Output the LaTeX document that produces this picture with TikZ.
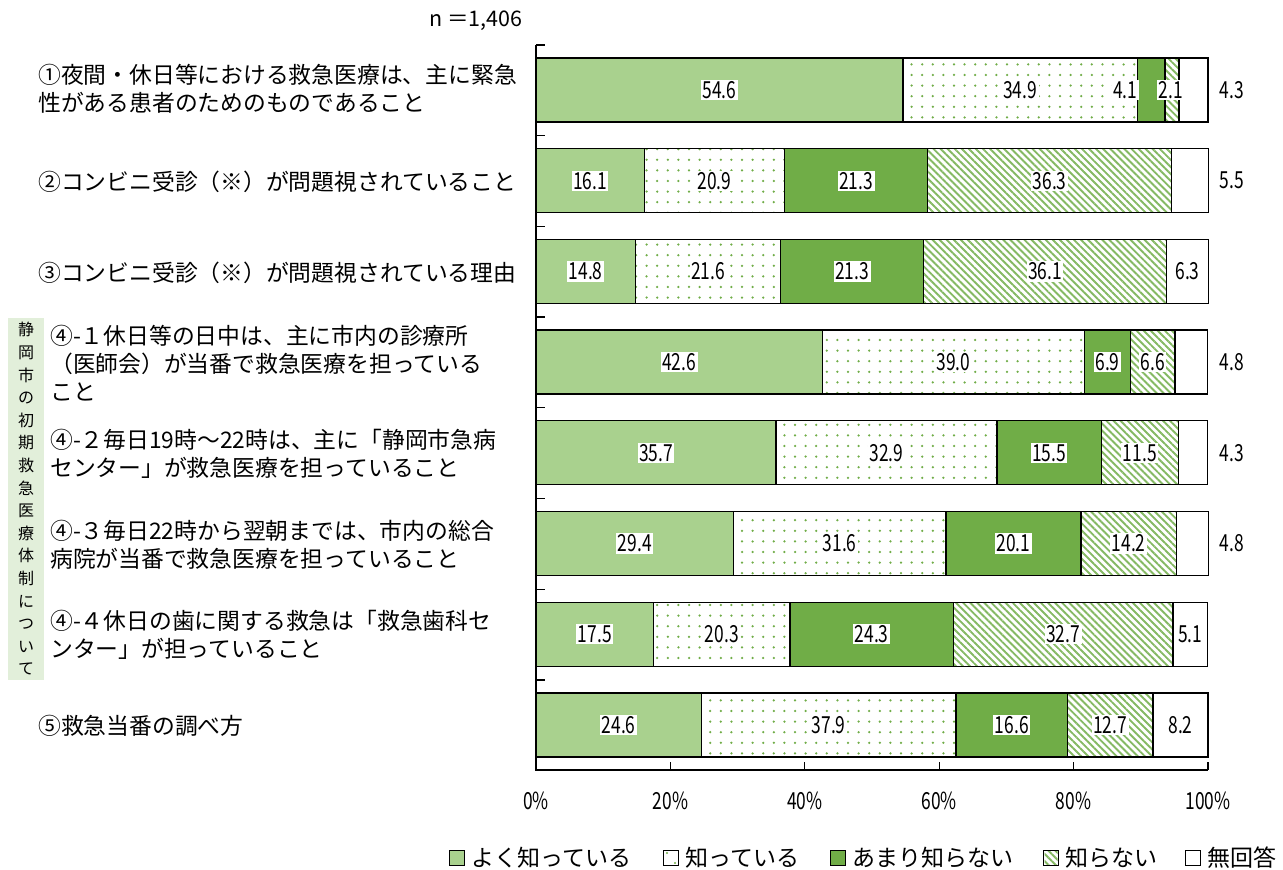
\documentclass[tikz,border=0pt]{standalone}
\usepackage{fontspec}
\setmainfont{Noto Sans CJK JP}
\newfontfamily\numfont[FakeStretch=0.74]{Noto Sans CJK JP}
\usetikzlibrary{patterns.meta}
\definecolor{lgreen}{HTML}{A9D18E}
\definecolor{dgreen}{HTML}{70AD47}
\definecolor{pgreen}{HTML}{70AD47}
\definecolor{boxgreen}{HTML}{E2EFDA}
\tikzset{
  seg/.style={draw=black, line width=1.3pt},
  dotsA/.style={pattern={Dots[distance=10.6pt, radius=1.25pt]}, pattern color=pgreen},
  hatch/.style={pattern={Lines[angle=-45, distance=5pt, line width=1.9pt]}, pattern color=pgreen!85},
  val/.style={fill=white, inner sep=1.5pt, font=\numfont\fontsize{23.5}{23.5}\selectfont},
  valout/.style={inner sep=1pt, font=\numfont\fontsize{23.5}{23.5}\selectfont},
  axlab/.style={inner sep=0pt, font=\numfont\fontsize{23.5}{23.5}\selectfont},
  cat/.style={anchor=west, align=left, inner sep=0pt, font=\fontsize{22.8}{28}\selectfont},
  legbox/.style={draw=black, line width=1.2pt, minimum width=15pt, minimum height=15pt, inner sep=0pt},
  legtxt/.style={anchor=west, inner sep=0pt, font=\fontsize{23}{23}\selectfont},
}
\newcommand\drawbar[9]{%
  \pgfmathsetmacro\yc{90+(#1-1)*90.7}%
  \pgfmathsetmacro\yt{\yc-32}\pgfmathsetmacro\yb{\yc+32}%
  \pgfmathsetmacro\xa{536}%
  \pgfmathsetmacro\xb{\xa+6.72*#2}%
  \pgfmathsetmacro\xc{\xb+6.72*#3}%
  \pgfmathsetmacro\xd{\xc+6.72*#4}%
  \pgfmathsetmacro\xe{\xd+6.72*#5}%
  \pgfmathsetmacro\xf{min(\xe+6.72*#6,1208.5)}%
  \path[seg, fill=lgreen] (\xa,\yt) rectangle (\xb,\yb);
  \path[fill=white] (\xb,\yt) rectangle (\xc,\yb);
  \path[dotsA] (\xb,\yt) rectangle (\xc,\yb);
  \path[seg] (\xb,\yt) rectangle (\xc,\yb);
  \path[seg, fill=dgreen] (\xc,\yt) rectangle (\xd,\yb);
  \path[fill=white] (\xd,\yt) rectangle (\xe,\yb);
  \path[hatch] (\xd,\yt) rectangle (\xe,\yb);
  \path[seg] (\xd,\yt) rectangle (\xe,\yb);
  \path[seg, fill=white] (\xe,\yt) rectangle (\xf,\yb);
  \node[val] (v#1a) at ({(\xa+\xb)/2},\yc) {#2};
  \node[val] (v#1b) at ({(\xb+\xc)/2},\yc) {#3};
  \node[val] (v#1c) at ({(\xc+\xd)/2+#7},\yc) {#4};
  \node[val] (v#1d) at ({(\xd+\xe)/2+#8},\yc) {#5};
  \ifnum#9=1
    \node[valout] (v#1e) at (1232,\yc) {#6};
  \else
    \node[val] (v#1e) at ({(\xe+\xf)/2},\yc) {#6};
  \fi
}
\begin{document}
\begin{tikzpicture}[x=1pt, y=-1pt]
\useasboundingbox (0,0) rectangle (1283,870);
\fill[white] (0,0) rectangle (1283,870);

\node[inner sep=0pt, font=\fontsize{21.5}{21.5}\selectfont] (nlab) at (476,21) {n ＝1,406};

% bars
\drawbar{1}{54.6}{34.9}{4.1}{2.1}{4.3}{-26}{-1}{1}
\drawbar{2}{16.1}{20.9}{21.3}{36.3}{5.5}{0}{0}{1}
\drawbar{3}{14.8}{21.6}{21.3}{36.1}{6.3}{0}{0}{0}
\drawbar{4}{42.6}{39.0}{6.9}{6.6}{4.8}{0}{0}{1}
\drawbar{5}{35.7}{32.9}{15.5}{11.5}{4.3}{0}{0}{1}
\drawbar{6}{29.4}{31.6}{20.1}{14.2}{4.8}{0}{0}{1}
\drawbar{7}{17.5}{20.3}{24.3}{32.7}{5.1}{0}{0}{0}
\drawbar{8}{24.6}{37.9}{16.6}{12.7}{8.2}{0}{0}{0}

% axes
\coordinate (atop) at (536,45);
\coordinate (aorig) at (536,770);
\coordinate (aend) at (1208,770);
\draw[line width=1.3pt] (atop) -- (aorig) -- (aend);
\foreach \k in {0,...,7} {
  \pgfmathsetmacro\ty{45+\k*90.7}
  \coordinate (sep\k) at (536,\ty);
  \draw[line width=1.3pt] (sep\k) -- ++(9,0);
}
\foreach \p [count=\j from 0] in {0,20,40,60,80,100} {
  \coordinate (tk\j) at ({536+6.72*\p},770);
  \draw[line width=1.3pt] (tk\j) -- ++(0,-8);
  \node[axlab] (ax\j) at ({536+6.72*\p},801) {\p\%};
}

% category labels
\node[cat] (c1) at (38,89) {①夜間・休日等における救急医療は、主に緊急\\性がある患者のためのものであること};
\node[cat] (c2) at (38,181.7) {②コンビニ受診（※）が問題視されていること};
\node[cat] (c3) at (38,272.4) {③コンビニ受診（※）が問題視されている理由};
\node[cat] (c4) at (50,363.1) {④-１休日等の日中は、主に市内の診療所\\（医師会）が当番で救急医療を担っている\\こと};
\node[cat] (c5) at (50,453.8) {④-２毎日19時～22時は、主に「静岡市急病\\センター」が救急医療を担っていること};
\node[cat] (c6) at (50,544.5) {④-３毎日22時から翌朝までは、市内の総合\\病院が当番で救急医療を担っていること};
\node[cat] (c7) at (50,635.2) {④-４休日の歯に関する救急は「救急歯科セ\\ンター」が担っていること};
\node[cat] (c8) at (38,725.9) {⑤救急当番の調べ方};

% group box
\node[fill=boxgreen, minimum width=36pt, minimum height=362pt, inner sep=0pt, align=center,
      font=\fontsize{16}{22.6}\selectfont] (grp) at (26,499)
  {静\\岡\\市\\の\\初\\期\\救\\急\\医\\療\\体\\制\\に\\つ\\い\\て};

% legend
\node[legbox, fill=lgreen] (lb1) at (457,858) {};
\node[legtxt] (lt1) at (471,858) {よく知っている};
\node[legbox, fill=white] (lb2) at (671,858) {};
\fill[pgreen] (667,853) circle (1.2pt) (675,863) circle (1.2pt);
\node[legtxt] (lt2) at (685,858) {知っている};
\node[legbox, fill=dgreen] (lb3) at (838,858) {};
\node[legtxt] (lt3) at (852,858) {あまり知らない};
\node[legbox, fill=white] (lb4) at (1051,858) {};
\path[hatch] (1044.5,851.5) rectangle (1057.5,864.5);
\node[legbox] at (lb4) {};
\node[legtxt] (lt4) at (1065,858) {知らない};
\node[legbox, fill=white] (lb5) at (1193,858) {};
\node[legtxt] (lt5) at (1207,858) {無回答};
\end{tikzpicture}
\end{document}
